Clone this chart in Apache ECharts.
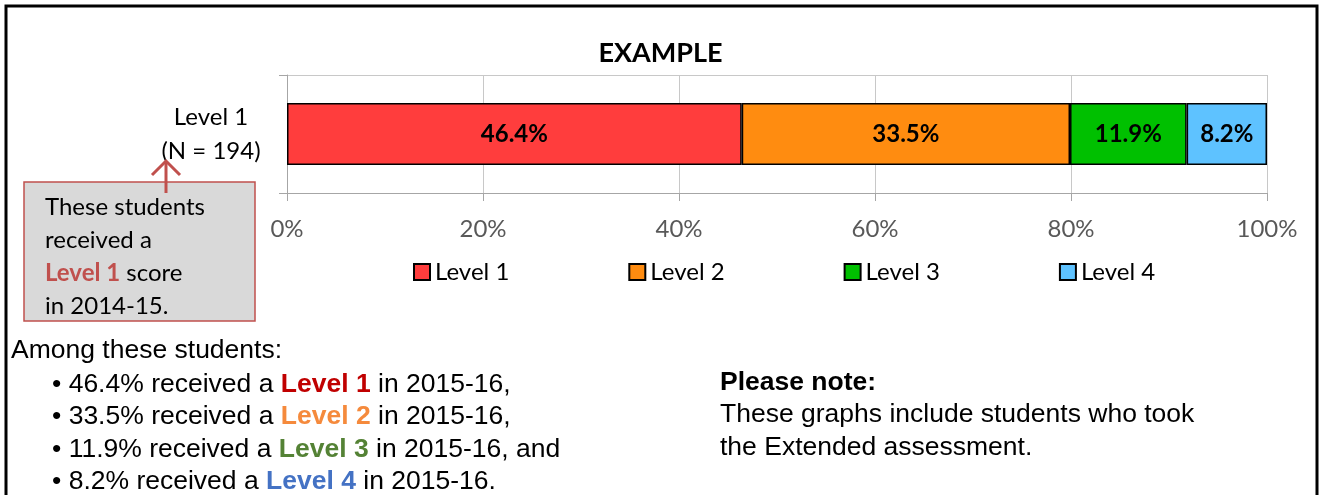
<!DOCTYPE html>
<html>
<head>
<meta charset="utf-8">
<script src="https://cdn.jsdelivr.net/npm/echarts@6/dist/echarts.min.js"></script>
<style>
  html, body { margin: 0; padding: 0; background: #fff; }
  #chart { width: 1321px; height: 495px; }
</style>
</head>
<body>
<div id="chart"></div>
<script>
// 数据
const categories = ['Level 1\n(N = 194)'];
const seriesNames = ['Level 1', 'Level 2', 'Level 3', 'Level 4'];
const level1 = [46.4];
const level2 = [33.5];
const level3 = [11.9];
const level4 = [8.2];
const tickLabels = ['0%', '20%', '40%', '60%', '80%', '100%'];
const barColors = ['#ff3d3d', '#ff8c10', '#00c000', '#5ec2ff'];
const textColors = ['#c00000', '#f58a3c', '#548235', '#4472c4'];

const calibri = 'Lato, "Open Sans", sans-serif';
const arial = '"Liberation Sans", Arial, sans-serif';

const chart = echarts.init(document.getElementById('chart'));

const seriesData = [level1, level2, level3, level4];
const series = seriesNames.map((name, i) => ({
  name: name,
  type: 'bar',
  stack: 'total',
  barWidth: 62,
  data: seriesData[i],
  itemStyle: { color: barColors[i], borderColor: '#000', borderWidth: 1.5 },
  label: {
    show: true,
    position: 'inside',
    formatter: '{c}%',
    color: '#000',
    fontWeight: 'bold',
    fontSize: 24,
    fontFamily: calibri
  },
  emphasis: { disabled: true }
}));

// 底部说明文字
const bulletLines = seriesNames.map((name, i) => {
  const v = seriesData[i][0];
  const tail = i === 2 ? ' in 2015-16, and' : (i === 3 ? ' in 2015-16.' : ' in 2015-16,');
  return '• ' + v + '% received a {l' + i + '|' + name + '}' + tail;
});

const fs = 26.5;
const lh = 32.5;

const option = {
  animation: false,
  title: {
    text: 'EXAMPLE',
    left: 'center',
    top: 35,
    textStyle: { fontFamily: calibri, fontWeight: 'bold', fontSize: 27, color: '#000' }
  },
  legend: {
    data: seriesNames,
    left: 408,
    top: 255,
    icon: 'rect',
    itemWidth: 16,
    itemHeight: 16,
    itemGap: 119,
    textStyle: { fontFamily: calibri, fontSize: 24, color: '#000' },
    selectedMode: false
  },
  grid: { left: 287, right: 54, top: 75, bottom: 302 },
  xAxis: {
    type: 'value',
    min: 0,
    max: 100,
    interval: 20,
    axisLine: { show: true, lineStyle: { color: '#a6a6a6', width: 1 } },
    axisTick: { show: true, length: 8, lineStyle: { color: '#a6a6a6' } },
    splitLine: { show: true, lineStyle: { color: '#c8c8c8', width: 1 } },
    axisLabel: {
      formatter: (v) => tickLabels[Math.round(v / 20)],
      color: '#595959',
      fontSize: 24,
      fontFamily: calibri,
      margin: 24
    }
  },
  yAxis: {
    type: 'category',
    data: categories,
    axisLine: { show: true, lineStyle: { color: '#a6a6a6', width: 1 } },
    axisTick: { show: true, length: 8, lineStyle: { color: '#a6a6a6' } },
    splitLine: { show: true, lineStyle: { color: '#c8c8c8', width: 1 } },
    axisLabel: {
      color: '#000',
      fontSize: 24,
      fontFamily: calibri,
      lineHeight: 34,
      align: 'center',
      margin: 76
    }
  },
  series: series,
  graphic: [
    // 外框
    {
      type: 'polyline',
      shape: { points: [[6, 495], [6, 6], [1317, 6], [1317, 495]] },
      style: { stroke: '#000', lineWidth: 3, fill: null },
      silent: true
    },
    // 注释框
    {
      type: 'rect',
      shape: { x: 24, y: 182, width: 231, height: 139 },
      style: { fill: '#d9d9d9', stroke: '#c0504d', lineWidth: 1.5 },
      z: 10
    },
    {
      type: 'polyline',
      shape: { points: [[166, 193], [166, 161]] },
      style: { stroke: '#c0504d', lineWidth: 3, fill: null },
      z: 11
    },
    {
      type: 'polyline',
      shape: { points: [[152, 175], [166, 161], [180, 175]] },
      style: { stroke: '#c0504d', lineWidth: 3, fill: null },
      z: 11
    },
    {
      type: 'text',
      left: 45,
      top: 191,
      z: 12,
      style: {
        text: 'These students\nreceived a\n{b|Level 1} score\nin 2014-15.',
        fontFamily: calibri,
        fontSize: 24,
        lineHeight: 33,
        fill: '#000',
        rich: {
          b: { fontFamily: calibri, fontSize: 24, fontWeight: 'bold', fill: '#c0504d', lineHeight: 33 }
        }
      }
    },
    // 底部文字
    {
      type: 'text',
      left: 11,
      top: 337,
      style: {
        text: 'Among these students:',
        fontFamily: arial,
        fontSize: fs,
        fill: '#000'
      }
    },
    {
      type: 'text',
      left: 52,
      top: 368,
      style: {
        text: bulletLines.join('\n'),
        fontFamily: arial,
        fontSize: fs,
        lineHeight: lh,
        fill: '#000',
        rich: {
          l0: { fontFamily: arial, fontSize: fs, fontWeight: 'bold', fill: textColors[0], lineHeight: lh },
          l1: { fontFamily: arial, fontSize: fs, fontWeight: 'bold', fill: textColors[1], lineHeight: lh },
          l2: { fontFamily: arial, fontSize: fs, fontWeight: 'bold', fill: textColors[2], lineHeight: lh },
          l3: { fontFamily: arial, fontSize: fs, fontWeight: 'bold', fill: textColors[3], lineHeight: lh }
        }
      }
    },
    {
      type: 'text',
      left: 720,
      top: 366,
      style: {
        text: '{h|Please note:}\nThese graphs include students who took\nthe Extended assessment.',
        fontFamily: arial,
        fontSize: fs,
        lineHeight: lh,
        fill: '#000',
        rich: {
          h: { fontFamily: arial, fontSize: fs, fontWeight: 'bold', fill: '#000', lineHeight: lh }
        }
      }
    }
  ]
};

chart.setOption(option);
</script>
</body>
</html>
